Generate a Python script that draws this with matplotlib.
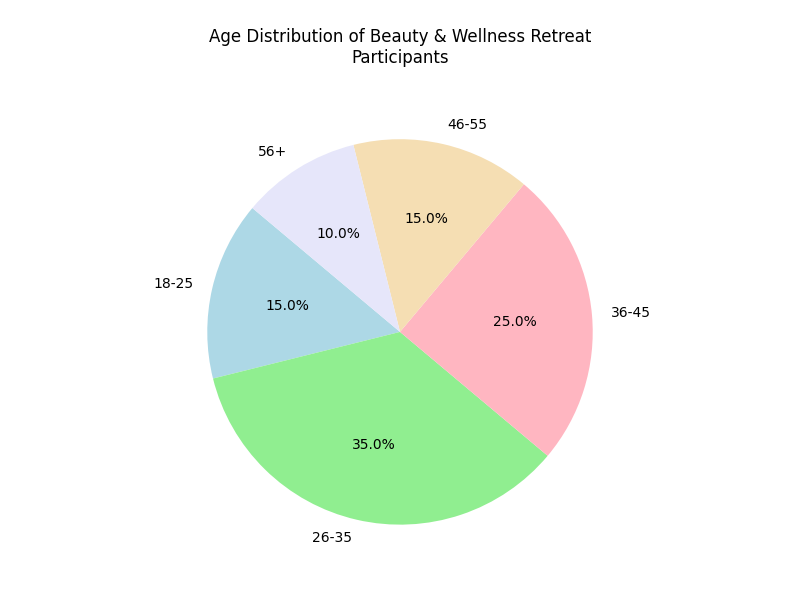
import matplotlib
matplotlib.use("Agg")
import matplotlib.pyplot as plt

labels = ["18-25", "26-35", "36-45", "46-55", "56+"]
values = [15, 35, 25, 15, 10]
colors = ["lightblue", "lightgreen", "lightpink", "wheat", "lavender"]

fig, ax = plt.subplots(figsize=(8, 6), dpi=100)
fig.subplots_adjust(left=0.1, right=0.9, top=0.8483, bottom=0.0453)
ax.pie(values, labels=labels, colors=colors, autopct="%1.1f%%", startangle=140)
ax.set_title("Age Distribution of Beauty & Wellness Retreat\nParticipants", pad=20)
fig.savefig("out.png")
